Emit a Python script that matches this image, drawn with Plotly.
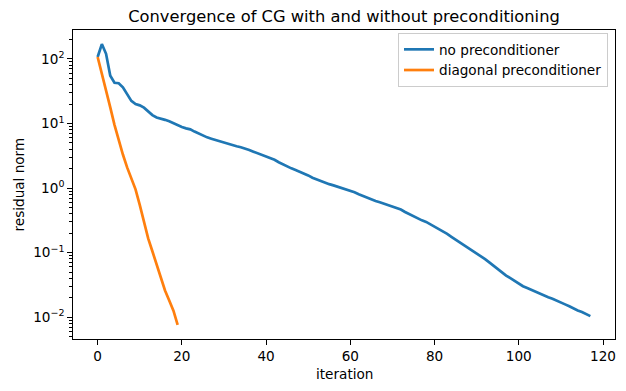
import numpy as np
import plotly.graph_objects as go

no_precond = [107, 170, 120, 55.0, 42.7, 42.0, 36.3, 28.2, 22.4, 20.0,
              19.1, 17.6, 15.5, 13.5, 12.4, 12.0, 11.4, 10.8, 10.0, 9.33,
              8.81, 8.41, 8.13, 7.50, 7.00, 6.46, 6.10, 5.82, 5.56, 5.25,
              4.98, 4.79, 4.60, 4.45, 4.29, 4.14, 3.89, 3.66, 3.47, 3.27,
              3.09, 2.92, 2.74, 2.51, 2.32, 2.15, 2.02, 1.90, 1.79, 1.68,
              1.57, 1.45, 1.36, 1.29, 1.22, 1.15, 1.10, 1.05, 1.00, 0.955,
              0.912, 0.861, 0.804, 0.754, 0.708, 0.664, 0.631, 0.603, 0.575, 0.547,
              0.515, 0.488, 0.466, 0.427, 0.394, 0.363, 0.337, 0.316, 0.299, 0.275,
              0.254, 0.232, 0.213, 0.195, 0.176, 0.160, 0.145, 0.130, 0.117, 0.106,
              0.0966, 0.0875, 0.0794, 0.0708, 0.0624, 0.0556, 0.0495, 0.0442, 0.0403, 0.0363,
              0.0331, 0.0302, 0.0283, 0.0264, 0.0248, 0.0232, 0.0216, 0.0204, 0.0193, 0.0182,
              0.0170, 0.0158, 0.0148, 0.0135, 0.0127, 0.0120, 0.0112, 0.0104]
diag_precond = [107, 60.3, 33.1, 17.8, 9.55, 5.50, 3.31, 2.09, 1.38, 0.955,
                0.550, 0.295, 0.166, 0.105, 0.0661, 0.0407, 0.0260, 0.0182, 0.0126, 0.00759]

iter_blue = list(range(len(no_precond)))
iter_orange = list(range(len(diag_precond)))

x_ticks = [0, 20, 40, 60, 80, 100, 120]
y_ticks = [1e-2, 1e-1, 1e0, 1e1, 1e2]
y_tick_text = ["10<sup>−2</sup>", "10<sup>−1</sup>", "10<sup>0</sup>", "10<sup>1</sup>", "10<sup>2</sup>"]

FONT = "DejaVu Sans"
# page body has an 8px default margin; the figure is sized/positioned to compensate
OFF = 8
W, H = 626 - OFF, 391 - OFF
ML, MR, MT, MB = 73 - OFF, 11, 30 - OFF, 52

pw = W - ML - MR
ph = H - MT - MB


def px_x(page_x):
    return (page_x - OFF - ML) / pw


def px_y(page_y):
    return 1 - (page_y - OFF - MT) / ph


fig = go.Figure()
fig.add_trace(go.Scatter(x=iter_blue, y=no_precond, mode="lines",
                         name="no preconditioner",
                         line=dict(color="#1f77b4", width=2.7)))
fig.add_trace(go.Scatter(x=iter_orange, y=diag_precond, mode="lines",
                         name="diagonal preconditioner",
                         line=dict(color="#ff7f0e", width=2.7)))

# axis ranges with 5% margins like matplotlib
xmax = max(iter_blue[-1], iter_orange[-1])
xpad = 0.05 * xmax
allv = np.log10(np.array(no_precond + diag_precond))
lo, hi = allv.min(), allv.max()
ypad = 0.05 * (hi - lo)

minor_vals = [m * 10.0 ** e for e in range(-3, 3) for m in range(2, 10)]

fig.update_layout(
    width=W, height=H,
    margin=dict(l=ML, r=MR, t=MT, b=MB, autoexpand=False),
    paper_bgcolor="white", plot_bgcolor="white",
    font=dict(family=FONT, size=13.6, color="black"),
    title=dict(text="Convergence of CG with and without preconditioning",
               x=0.5, xref="paper", xanchor="center",
               y=1 - (16 - OFF) / H, yref="container", yanchor="middle",
               font=dict(size=16.3, family=FONT, color="black")),
    showlegend=True,
    legend=dict(x=px_x(608), y=px_y(33), xanchor="right", yanchor="top",
                bgcolor="rgba(255,255,255,0.8)", bordercolor="#cccccc", borderwidth=1,
                font=dict(size=13.6, family=FONT), itemwidth=30,
                tracegroupgap=0),
    annotations=[
        dict(text="iteration", x=0.5, xref="paper", y=px_y(374), yref="paper",
             showarrow=False, xanchor="center", yanchor="middle",
             font=dict(size=13.6, family=FONT)),
        dict(text="residual norm", x=px_x(18), xref="paper", y=0.5, yref="paper",
             showarrow=False, textangle=-90, xanchor="center", yanchor="middle",
             font=dict(size=13.6, family=FONT)),
    ],
)

fig.update_xaxes(
    range=[-xpad, xmax + xpad], automargin=False,
    tickmode="array", tickvals=x_ticks,
    ticks="outside", ticklen=4.8, tickwidth=1.1, tickcolor="black",
    showline=True, linecolor="black", linewidth=1, mirror=True,
    showgrid=False, zeroline=False,
    tickfont=dict(size=13.6, family=FONT),
)
fig.update_yaxes(
    type="log", automargin=False,
    range=[lo - ypad, hi + ypad],
    tickmode="array", tickvals=y_ticks, ticktext=y_tick_text,
    ticks="outside", ticklen=4.8, tickwidth=1.1, tickcolor="black",
    minor=dict(tickmode="array", tickvals=minor_vals, ticks="outside",
               ticklen=2.7, tickwidth=0.8, tickcolor="black", showgrid=False),
    showline=True, linecolor="black", linewidth=1, mirror=True,
    showgrid=False, zeroline=False,
    tickfont=dict(size=13.6, family=FONT),
)

fig.write_html("out.html")
